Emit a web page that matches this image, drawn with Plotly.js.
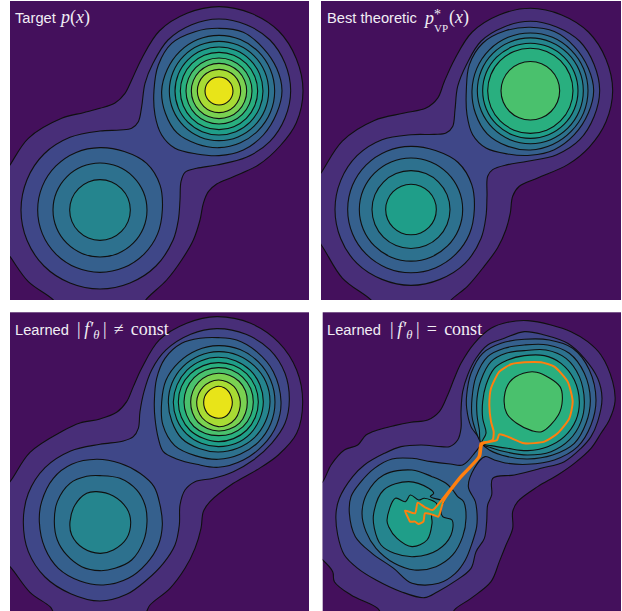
<!DOCTYPE html>
<html><head><meta charset="utf-8">
<script src="https://cdn.plot.ly/plotly-3.0.1.min.js"></script>
<style>html,body{margin:0;padding:0;background:#fff}</style></head>
<body><div id="chart" style="width:622px;height:611px"></div>
<script>
// Density level colours, lowest to highest
const levelColors = ['#44105c','#482e78','#3f4788','#35608d','#2d718e','#25858e','#1f9e89','#29af7f','#4ac16d','#7ad151','#a8db34','#e8e419'];
const ink = '#101010';
const orange = '#ff7f0e';

// unit directions for near-circular contours, clockwise on screen from east
const dirX = [1,.924,.707,.383,0,-.383,-.707,-.924,-1,-.924,-.707,-.383,0,.383,.707,.924];
const dirY = [0,.383,.707,.924,1,.924,.707,.383,0,-.383,-.707,-.924,-1,-.924,-.707,-.383];

// ---- Panel 1: target ----
const target_L1 = [30,495,85,415,185,355,250,338,300,325,345,309,375,280,395,240,425,176,478,93,561,40,657,20,753,40,836,93,889,176,909,272,889,368,840,438,775,495,700,530,650,552,625,575,610,610,600,660,580,720,545,780,500,840,437,900,420,930,180,930,160,900,85,845,30,770,0,730,0,540];
const target_L2 = [63,630,81,539,132,462,210,412,300,393,360,390,395,385,415,365,425,320,435,250,459,190,504,120,575,74,657,57,739,74,810,120,855,190,872,272,855,354,810,424,739,472,650,495,590,505,555,517,543,545,540,600,535,660,519,721,468,798,390,849,300,867,210,849,132,798,81,721];
const target_L3_upper = [462,270,475,195,515,130,585,95,657,85,730,97,790,145,830,205,846,272,830,340,790,405,730,450,657,467,590,462,525,445,485,405,465,345];
const target_peak_center = [657,273];
const target_peak_L4 = [167,167,167,168,170,172,178,174,172,168,167,167,167,167,167,167];
const target_peak_radii = [149,132,116,99,83,65,42];
const target_peak_levels = [5,6,7,8,9,10,11];
const target_low_center = [300,630];
const target_low_L3 = [187,187,187,187,187,187,187,187,187,187,187,187,187,190,198,195];
const target_low_L4 = 141;
const target_low_L5 = 91;

// ---- Panel 2: best theoretic ----
const best_L1 = [30,520,94,424,190,362,280,340,345,325,380,295,400,245,431,178,483,97,564,45,658,25,752,45,833,97,885,178,905,272,885,366,835,442,770,495,680,535,625,560,605,590,598,640,585,690,560,745,520,800,470,860,420,902,400,930,200,930,180,902,94,836,30,735,0,700,0,560];
const best_L2 = [72,630,89,543,138,468,213,420,300,405,370,404,405,400,425,380,432,330,440,260,467,193,510,124,579,81,658,64,737,81,806,124,849,193,866,272,849,351,806,420,737,465,650,485,590,495,545,510,530,530,528,590,525,650,510,717,462,792,387,840,300,858,213,840,138,792,89,717];
const best_L3_upper = [466,271,475,195,515,130,585,92,658,82,730,95,790,140,832,205,848,272,832,340,790,405,730,450,658,467,590,463,525,445,485,405,468,345];
const best_peak_center = [658,273];
const best_L4_upper = [173,173,173,175,178,180,183,178,175,174,174,174,174,174,173,173];
const best_peak_radii = [159,143,128,88];
const best_peak_levels = [5,6,7,8];
const best_low_center = [300,630];
const best_low_L3 = [190,190,190,190,190,190,190,190,190,190,190,190,190,192,200,197];
const best_low_L4 = 155;
const best_low_L5 = 117;
const best_low_L6 = 76;

// ---- Panel 3: learned, |f'| not constant ----
const free_L1 = [30,530,90,442,188,378,240,354,300,342,350,322,380,290,400,245,425,190,478,105,560,55,650,35,752,55,836,112,890,195,908,290,890,385,835,450,770,495,700,535,630,590,610,620,603,670,585,730,555,790,510,850,450,900,430,930,170,930,150,905,90,862,30,785,0,760,0,560];
const free_L2 = [70,650,85,565,135,488,212,438,300,418,370,408,400,395,415,370,420,320,432,260,455,195,498,135,572,88,650,71,738,88,810,135,855,205,868,285,855,355,815,415,760,465,700,500,640,520,585,530,555,555,540,600,538,660,525,720,490,775,440,825,380,868,300,888,212,866,135,816,85,740];
const free_L3_upper = [463,290,470,220,495,160,545,115,600,100,655,98,710,105,770,140,820,200,843,290,830,360,790,420,730,465,655,487,590,478,530,462,490,440,475,400,465,340];
const free_peak_center = [655,291];
const free_peak_L4 = [170,170,170,170,172,175,185,180,170,170,168,168,169,170,170,170];
const free_peak_L5 = [155,153,152,150,150,151,155,151,150,150,150,150,151,152,153,155];
const free_peak_L6 = [135,134,135,135,134,134,135,135,135,134,134,134,134,134,135,135];
const free_peak_L7 = [120,120,120,119,119,118,120,120,120,120,119,118,118,119,120,120];
const free_peak_L8 = [105,105,105,103,101,102,104,103,103,103,103,103,103,104,104,105];
const free_peak_L9 = [87,88,90,88,87,86,86,84,83,83,84,85,86,87,88,88];
const free_peak_L10 = [66,68,72,74,74,70,68,66,65,64,64,65,66,66,66,65];
const free_peak_L11 = [42,43,46,49,49,48,47,45,44,44,44,45,47,46,44,42];
const free_low_L3 = [118,650,125,590,160,520,215,478,290,463,360,475,420,505,462,545,480,600,487,660,475,720,440,775,385,820,310,840,240,828,175,790,135,730];
const free_low_L4 = [163,650,172,590,210,535,260,514,300,512,360,520,410,555,435,600,441,650,430,710,395,765,345,790,300,797,245,785,200,750,172,705];
const free_low_L5 = [210,650,225,600,260,565,290,560,340,573,380,610,392,650,380,700,340,735,300,745,250,730,215,690];

// ---- Panel 4: learned, |f'| constant ----
const const_L1 = [35,530,60,480,100,435,140,420,165,390,200,375,250,362,300,352,350,345,385,320,410,270,430,220,450,175,490,115,540,70,590,52,650,47,720,60,780,80,830,110,870,150,905,230,912,290,895,345,870,385,840,430,790,475,740,510,680,545,620,590,605,620,605,670,585,720,565,770,540,830,480,880,430,915,420,940,220,940,200,910,120,870,70,830,65,800,35,765,0,740,0,560];
const const_L2 = [75,625,85,580,125,515,160,480,220,445,270,425,330,420,390,425,415,425,440,405,450,370,450,320,455,260,470,210,495,160,530,120,580,100,640,80,700,90,770,115,820,160,860,220,873,280,860,350,840,395,810,430,760,470,690,490,610,510,545,520,542,570,530,600,527,650,520,700,495,740,480,790,430,830,380,860,340,878,270,860,195,825,140,790,100,750,80,690];
const const_L3 = [115,625,120,575,150,530,190,490,243,462,303,460,360,470,418,477,455,480,490,445,510,412,480,365,467,310,467,270,480,205,515,145,570,115,640,103,715,105,785,130,835,195,855,285,840,360,800,425,730,465,650,478,590,475,550,465,522,455,490,490,472,545,493,590,498,625,497,665,483,715,463,765,433,805,383,835,303,835,248,790,183,745,133,695];
const const_L4_upper = [510,413,495,380,483,335,483,280,495,215,530,155,580,130,640,120,710,120,775,145,820,205,838,285,825,355,790,415,725,450,650,462,590,455,535,435];
const const_L5_upper = [510,415,505,375,498,330,498,280,510,225,540,170,585,145,640,137,705,135,765,160,805,215,820,290,810,350,775,405,720,440,650,450,590,442,540,428];
const const_L6_upper = [512,415,525,385,515,340,515,290,525,240,550,190,590,165,640,152,700,152,750,175,790,225,805,290,795,345,760,395,710,425,650,437,590,430,540,422];
const const_L4_lower = [153,625,168,565,218,510,303,495,363,515,405,535,425,555,440,575,458,590,465,640,455,695,425,750,375,785,310,795,250,775,195,730,165,680];
const const_L5_lower = [188,625,218,555,293,530,353,550,368,565,358,575,398,590,390,605,395,635,423,645,420,690,380,735,310,755,250,745,210,720,190,670];
const const_L6_lower = [228,645,253,580,283,590,298,570,323,585,340,580,378,598,362,630,363,655,348,705,303,725,258,700,233,665];
const const_L7_orange = [282,617,312,625,320,593,342,607,365,615,392,585,447,515,502,455,509,415,530,410,545,405,548,380,540,350,535,300,540,250,565,200,600,178,640,172,690,172,730,185,770,230,785,290,775,340,740,385,700,410,640,415,590,395,565,388,558,405,540,410,514,418,507,455,450,518,397,590,382,635,367,630,342,625,337,650,322,657,312,650,297,650,292,640];
const const_L8 = [637,205,677,202,747,245,754,285,742,330,692,380,662,377,617,355,587,325,580,275,597,230];

function ring(center, r){
  const xs=[], ys=[];
  for(let i=0;i<dirX.length;i++){
    const v = Array.isArray(r) ? r[i] : r;
    xs.push(center[0]+v*dirX[i]); ys.push(center[1]+v*dirY[i]);
  }
  xs.push(xs[0]); ys.push(ys[0]);
  return [xs,ys];
}
function poly(flat){
  const xs=[], ys=[];
  for(let i=0;i<flat.length;i+=2){ xs.push(flat[i]); ys.push(flat[i+1]); }
  xs.push(xs[0]); ys.push(ys[0]);
  return [xs,ys];
}
const traces=[];
function add(ax, pts, level, opts){
  opts = opts || {};
  traces.push({type:'scatter',mode:'lines',xaxis:'x'+ax,yaxis:'y'+ax,x:pts[0],y:pts[1],
    fill:'toself',fillcolor:levelColors[level],hoverinfo:'skip',showlegend:false,
    line:{color:opts.color||ink,width:opts.width||1.1,shape:'spline',smoothing:opts.smoothing||1}});
}
// panel 1
add(1,poly(target_L1),1); add(1,poly(target_L2),2); add(1,poly(target_L3_upper),3);
add(1,ring(target_peak_center,target_peak_L4),4);
target_peak_radii.forEach((r,i)=>add(1,ring(target_peak_center,r),target_peak_levels[i]));
add(1,ring(target_low_center,target_low_L3),3); add(1,ring(target_low_center,target_low_L4),4); add(1,ring(target_low_center,target_low_L5),5);
// panel 2
add(2,poly(best_L1),1); add(2,poly(best_L2),2); add(2,poly(best_L3_upper),3); add(2,ring(best_peak_center,best_L4_upper),4);
best_peak_radii.forEach((r,i)=>add(2,ring(best_peak_center,r),best_peak_levels[i]));
add(2,ring(best_low_center,best_low_L3),3); add(2,ring(best_low_center,best_low_L4),4); add(2,ring(best_low_center,best_low_L5),5); add(2,ring(best_low_center,best_low_L6),6);
// panel 3
add(3,poly(free_L1),1); add(3,poly(free_L2),2); add(3,poly(free_L3_upper),3);
[free_peak_L4,free_peak_L5,free_peak_L6,free_peak_L7,free_peak_L8,free_peak_L9,free_peak_L10,free_peak_L11].forEach((r,i)=>add(3,ring(free_peak_center,r),i+4));
add(3,poly(free_low_L3),3); add(3,poly(free_low_L4),4); add(3,poly(free_low_L5),5);
// panel 4
const s={smoothing:1};
add(4,poly(const_L1),1,s); add(4,poly(const_L2),2,s); add(4,poly(const_L3),3,s);
add(4,poly(const_L4_upper),4,s); add(4,poly(const_L5_upper),5,s); add(4,poly(const_L6_upper),6,s);
add(4,poly(const_L4_lower),4,s); add(4,poly(const_L5_lower),5,s); add(4,poly(const_L6_lower),6,s);
add(4,poly(const_L7_orange),7,{color:orange,width:2,smoothing:.6});
add(4,poly(const_L8),8,s);

const W=622,H=611;
function axis(dom,range){return {domain:dom,range:range,visible:false,showgrid:false,zeroline:false,fixedrange:true};}
const titleColor='#f1edf4';
const sans='Liberation Sans, Arial, sans-serif';
const serif='Liberation Serif, Times New Roman, serif';
function note(px,py,text,size,font){return {xref:'paper',yref:'paper',x:px/W,y:1-py/H,xanchor:'left',yanchor:'middle',showarrow:false,text:text,font:{family:font,size:size,color:titleColor},borderpad:0,borderwidth:0};}
const layout={width:W,height:H,margin:{l:0,r:0,t:0,b:0},paper_bgcolor:'#ffffff',plot_bgcolor:levelColors[0],showlegend:false,
 xaxis:axis([10/W,309/W],[30,927]),yaxis:axis([1-300/H,1-1/H],[900,3]),
 xaxis2:axis([321/W,621/W],[30,930]),yaxis2:axis([1-300/H,1-1/H],[902,3]),
 xaxis3:axis([10/W,309/W],[30,927]),yaxis3:axis([0,1-312.3/H],[918,22]),
 xaxis4:axis([322.7/W,621/W],[35,930]),yaxis4:axis([0,1-312.3/H],[918,22]),
 annotations:[
  note(15,17.5,'Target',14.7,sans),
  note(58.5,17.5,'<i>p</i>(<i>x</i>)',18,serif),
  note(327,17.5,'Best theoretic',14.7,sans),
  note(423,18,'<i>p</i>',18,serif),
  note(434,14.5,'*',14,serif),
  note(434,28,'VP',11,serif),
  note(449,17.5,'(<i>x</i>)',18,serif),
  note(15,330,'Learned',14.7,sans),
  note(77,330,"|\u2009<i>f′<sub>θ</sub></i>\u2009|\u2009\u2009≠\u2009\u2009const",18,serif),
  note(327,330,'Learned',14.7,sans),
  note(390,330,"|\u2009<i>f′<sub>θ</sub></i>\u2009|\u2009\u2009=\u2009\u2009const",18,serif)
 ]};
Plotly.newPlot('chart',traces,layout,{displayModeBar:false,staticPlot:true});
</script></body></html>
